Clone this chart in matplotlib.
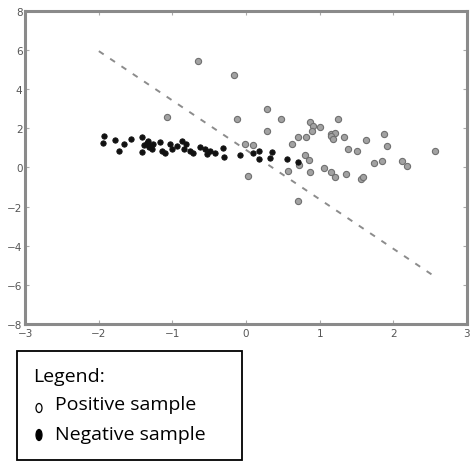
import matplotlib
matplotlib.use("Agg")
import matplotlib.pyplot as plt
from matplotlib.patches import Rectangle, Ellipse
import numpy as np

# positive samples (gray)
pos_x = [-0.66, -0.16, -1.08, -0.13, 0.29, 0.48, -0.01, 0.09, 0.02, 0.29,
         0.57, 0.63, 0.70, 0.81, 0.87, 0.91, 0.90, 1.00, 1.25, 1.15,
         1.21, 1.16, 1.18, 1.33, 1.63, 1.87, 1.91, 1.39, 1.50, 0.80,
         0.86, 0.72, 0.87, 1.06, 1.15, 1.21, 1.36, 1.56, 1.59, 1.74,
         1.85, 2.12, 2.19, 2.56, 0.70]
pos_y = [5.44, 4.73, 2.58, 2.46, 3.01, 2.46, 1.21, 1.14, -0.45, 1.88,
         -0.19, 1.18, 1.57, 1.55, 2.32, 2.12, 1.84, 2.09, 2.50, 1.69,
         1.78, 1.61, 1.44, 1.56, 1.40, 1.72, 1.09, 0.92, 0.85, 0.62,
         0.38, 0.15, -0.22, -0.05, -0.22, -0.50, -0.34, -0.58, -0.50, 0.24,
         0.31, 0.33, 0.05, 0.85, -1.72]

# negative samples (black)
neg_x = [-1.93, -1.95, -1.78, -1.72, -1.66, -1.56, -1.42, -1.42, -1.35, -1.33,
         -1.30, -1.28, -1.26, -1.17, -1.14, -1.10, -1.03, -1.01, -0.94, -0.87,
         -0.85, -0.81, -0.76, -0.72, -0.62, -0.56, -0.53, -0.49, -0.42, -0.31,
         -0.30, -0.08, 0.09, 0.17, 0.18, 0.32, 0.35, 0.56, 0.71, -1.38, -1.32]
neg_y = [1.61, 1.27, 1.40, 0.84, 1.18, 1.44, 1.57, 0.79, 1.27, 1.36,
         1.09, 0.92, 1.18, 1.30, 0.84, 0.75, 1.18, 0.92, 1.09, 1.36,
         0.92, 1.18, 0.84, 0.75, 1.02, 0.92, 0.67, 0.84, 0.75, 1.01,
         0.55, 0.62, 0.75, 0.84, 0.41, 0.50, 0.79, 0.41, 0.28, 1.15, 1.05]

# separating line endpoints
line_x = [-2.0, 2.55]
line_y = [5.95, -5.55]

fig = plt.figure(figsize=(4.76, 4.64), dpi=100)
ax = fig.add_axes([0.053, 0.30, 0.928, 0.674])

ax.scatter(pos_x, pos_y, s=20, facecolor='#a2a2a2', edgecolor='#707070', linewidth=0.8, zorder=3)
ax.scatter(neg_x, neg_y, s=15, facecolor='#111111', edgecolor='#111111', linewidth=0.6, zorder=4)
ax.plot(line_x, line_y, linestyle=(0, (3, 4)), color='#8c8c8c', linewidth=1.4, zorder=2)

ax.set_xlim(-3, 3)
ax.set_ylim(-8, 8)
ax.set_xticks(np.arange(-3, 4, 1))
ax.set_yticks(np.arange(-8, 9, 2))
ax.tick_params(direction='in', length=3, width=0.8, color='#aaaaaa', labelsize=7.5,
               labelcolor='#555555', top=True, right=True, pad=2)
ax.tick_params(axis='x', pad=3)
for sp in ax.spines.values():
    sp.set_color('#8a8a8a')
    sp.set_linewidth(2.2)

# legend box below the plot
W, H = 476.0, 464.0
fig.add_artist(Rectangle((17 / W, 1 - 461 / H), 225 / W, 109 / H, transform=fig.transFigure,
                         facecolor='white', edgecolor='black', linewidth=1.3))
fig.text(33 / W, 1 - 377 / H, "Legend:", fontsize=14, family='Open Sans', va='center', ha='left')
fig.add_artist(Ellipse((39 / W, 1 - 409 / H), 6 / W, 9 / H, transform=fig.transFigure,
                       facecolor='white', edgecolor='black', linewidth=0.9))
fig.text(55 / W, 1 - 405 / H, "Positive sample", fontsize=14, family='Open Sans', va='center', ha='left')
fig.add_artist(Ellipse((39 / W, 1 - 436 / H), 6 / W, 11 / H, transform=fig.transFigure,
                       facecolor='black', edgecolor='black', linewidth=0.9))
fig.text(55 / W, 1 - 435 / H, "Negative sample", fontsize=14, family='Open Sans', va='center', ha='left')

fig.savefig("out.png", dpi=100)
